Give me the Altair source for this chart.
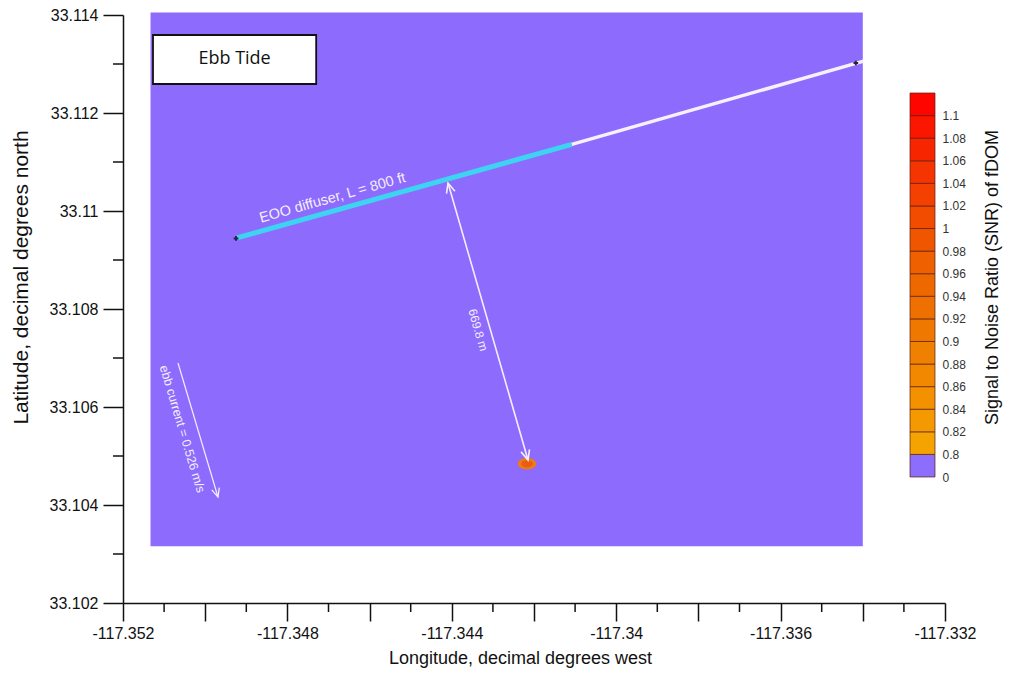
import altair as alt
import pandas as pd

# ---------------- data ----------------
x_major = [-117.352, -117.350, -117.348, -117.346, -117.344, -117.342,
           -117.340, -117.338, -117.336, -117.334, -117.332]
x_major_labels = ["-117.352", "", "-117.348", "", "-117.344", "",
                  "-117.34", "", "-117.336", "", "-117.332"]
x_minor = [-117.351, -117.349, -117.347, -117.345, -117.343,
           -117.341, -117.339, -117.337, -117.335, -117.333]
y_major = [33.102, 33.104, 33.106, 33.108, 33.110, 33.112, 33.114]
y_major_labels = ["33.102", "33.104", "33.106", "33.108", "33.11", "33.112", "33.114"]
y_minor = [33.103, 33.105, 33.107, 33.109, 33.111, 33.113]

# model grid extent (SNR = 0 everywhere except the plume)
grid_lon = [-117.35133, -117.33400]
grid_lat = [33.10316, 33.11405]

# diffuser (cyan = EOO diffuser section, white = outfall pipe)
diff_cyan_lon = [-117.34923, -117.34108]
diff_cyan_lat = [33.10945, 33.11136]
diff_white_lon = [-117.34108, -117.33398]
diff_white_lat = [33.11136, 33.11306]
diff_end_lon = [-117.34925, -117.33417]
diff_end_lat = [33.10944, 33.11302]

# plume spot
plume_lon = [-117.34217]
plume_lat = [33.10484]
plume_snr = [0.9]

# distance arrow
dist_lon = [-117.344092, -117.342146]
dist_lat = [33.110571, 33.104918]
dist_label = ["669.8 m"]
dist_label_lon = [-117.343363]
dist_label_lat = [33.107571]

# ebb current arrow
cur_lon = [-117.350662, -117.349689]
cur_lat = [33.106898, 33.104163]
cur_label = ["ebb current = 0.526 m/s"]
cur_label_lon = [-117.35056]
cur_label_lat = [33.10555]

# diffuser label
diff_label = ["EOO diffuser, L = 800 ft"]
diff_label_lon = [-117.346900]
diff_label_lat = [33.110260]

# title box
box_lon = [-117.35127, -117.34730]
box_lat = [33.112592, 33.113592]
box_text = ["Ebb Tide"]

# colour bar
cb_labels = ["0", "0.8", "0.82", "0.84", "0.86", "0.88", "0.9", "0.92", "0.94",
             "0.96", "0.98", "1", "1.02", "1.04", "1.06", "1.08", "1.1"]
cb_colors = ["#8d6efc", "#f5a300", "#f49a00", "#f39100", "#f28800", "#f08000",
             "#ef7800", "#ee7000", "#ee6800", "#ef6000", "#f05600", "#f24c00",
             "#f44000", "#f63400", "#f82600", "#fb1600", "#ff0500"]

PURPLE = "#8c6bfd"
FONT = "Liberation Sans, Arial, sans-serif"

# ---------------- frames ----------------
grid_df = pd.DataFrame({"lon0": [grid_lon[0]], "lon1": [grid_lon[1]],
                        "lat0": [grid_lat[0]], "lat1": [grid_lat[1]]})
cyan_df = pd.DataFrame({"lon": diff_cyan_lon, "lat": diff_cyan_lat})
white_df = pd.DataFrame({"lon": diff_white_lon, "lat": diff_white_lat})
end_df = pd.DataFrame({"lon": diff_end_lon, "lat": diff_end_lat})
plume_df = pd.DataFrame({"lon": plume_lon, "lat": plume_lat, "snr": plume_snr})
dist_df = pd.DataFrame({"lon": dist_lon, "lat": dist_lat})
cur_df = pd.DataFrame({"lon": cur_lon, "lat": cur_lat})
box_df = pd.DataFrame({"lon0": [box_lon[0]], "lon1": [box_lon[1]],
                       "lat0": [box_lat[0]], "lat1": [box_lat[1]],
                       "lonc": [(box_lon[0] + box_lon[1]) / 2],
                       "latc": [(box_lat[0] + box_lat[1]) / 2],
                       "t": box_text})
xminor_df = pd.DataFrame({"lon": x_minor})
yminor_df = pd.DataFrame({"lat": y_minor})
cb_df = pd.DataFrame({"lo": list(range(len(cb_colors))),
                      "hi": [i + 1 for i in range(len(cb_colors))],
                      "col": cb_colors})

xs = alt.Scale(domain=[x_major[0], x_major[-1]], nice=False, zero=False)
ys = alt.Scale(domain=[y_major[0], y_major[-1]], nice=False, zero=False)

x_label_expr = "[" + ",".join("'%s'" % s for s in x_major_labels) + "][round((datum.value - (%s)) * 500)]" % x_major[0]
y_label_expr = "[" + ",".join("'%s'" % s for s in y_major_labels) + "][round((datum.value - %s) * 500)]" % y_major[0]

x_axis = alt.Axis(values=x_major, labelExpr=x_label_expr, tickSize=18, tickWidth=1.5,
                  tickColor="#111", domainColor="#111", domainWidth=1.5, grid=False,
                  labelFont=FONT, labelFontSize=16, labelColor="#111", labelPadding=4,
                  labelFlush=False, labelOverlap=False,
                  title="Longitude, decimal degrees west", titleFont=FONT,
                  titleFontSize=18, titleFontWeight="normal", titleColor="#111",
                  titleX=397, titleY=55, titleBaseline="middle", titleAlign="center")
y_axis = alt.Axis(values=y_major, labelExpr=y_label_expr, tickSize=20, tickWidth=1.5,
                  tickColor="#111", domainColor="#111", domainWidth=1.5, grid=False,
                  labelFont=FONT, labelFontSize=16, labelColor="#111", labelPadding=5,
                  labelFlush=False, labelOverlap=False,
                  title="Latitude, decimal degrees north", titleFont=FONT,
                  titleFontSize=21, titleFontWeight="normal", titleColor="#111",
                  titleX=-102, titleY=262, titleAngle=270, titleBaseline="middle",
                  titleAlign="center")

grid_layer = alt.Chart(grid_df).mark_rect(color=PURPLE).encode(
    x=alt.X("lon0:Q", scale=xs, axis=x_axis), x2="lon1:Q",
    y=alt.Y("lat0:Q", scale=ys, axis=y_axis), y2="lat1:Q")

cyan_layer = alt.Chart(cyan_df).mark_line(color="#3fd3f2", strokeWidth=5).encode(
    x="lon:Q", y="lat:Q")
white_layer = alt.Chart(white_df).mark_line(color="#f6f0fa", strokeWidth=3.5).encode(
    x="lon:Q", y="lat:Q")
end_layer = alt.Chart(end_df).mark_point(shape="cross", filled=True, color="#2a2240",
                                         size=22, opacity=1).encode(x="lon:Q", y="lat:Q")

ellipse = "M-1,0A1,0.62,0,1,0,1,0A1,0.62,0,1,0,-1,0Z"
plume_layer = alt.Chart(plume_df).mark_point(shape=ellipse, filled=True, color="#f27a14",
                                             size=340, opacity=1).encode(x="lon:Q", y="lat:Q")
plume_core = alt.Chart(plume_df).mark_point(shape=ellipse, filled=True, color="#e85e10",
                                            size=130, opacity=1).encode(x="lon:Q", y="lat:Q")

chev = "M-0.45,1L0,0L0.45,1"
dist_line = alt.Chart(dist_df).mark_line(color="#f4eefa", strokeWidth=1.6).encode(
    x="lon:Q", y="lat:Q")
dist_head_top = alt.Chart(dist_df.iloc[[0]]).mark_point(
    shape=chev, filled=False, stroke="#f4eefa", strokeWidth=1.6, size=380, opacity=1,
    angle=343.9).encode(x="lon:Q", y="lat:Q")
dist_head_bot = alt.Chart(dist_df.iloc[[1]]).mark_point(
    shape=chev, filled=False, stroke="#f4eefa", strokeWidth=1.6, size=380, opacity=1,
    angle=163.9).encode(x="lon:Q", y="lat:Q")
dist_text = alt.Chart(pd.DataFrame({"lon": dist_label_lon, "lat": dist_label_lat,
                                    "t": dist_label})).mark_text(
    angle=73.9, font=FONT, fontSize=12, color="#f4eefa").encode(
    x="lon:Q", y="lat:Q", text="t:N")

cur_line = alt.Chart(cur_df).mark_line(color="#f4eefa", strokeWidth=1.2).encode(
    x="lon:Q", y="lat:Q")
cur_head = alt.Chart(cur_df.iloc[[1]]).mark_point(
    shape=chev, filled=False, stroke="#f4eefa", strokeWidth=1.3, size=300, opacity=1,
    angle=163.4).encode(x="lon:Q", y="lat:Q")
cur_text = alt.Chart(pd.DataFrame({"lon": cur_label_lon, "lat": cur_label_lat,
                                   "t": cur_label})).mark_text(
    angle=73.4, font=FONT, fontSize=12.5, color="#f4eefa").encode(
    x="lon:Q", y="lat:Q", text="t:N")

diff_text = alt.Chart(pd.DataFrame({"lon": diff_label_lon, "lat": diff_label_lat,
                                    "t": diff_label})).mark_text(
    angle=344.2, font=FONT, fontSize=14.5, color="#f4eefa").encode(
    x="lon:Q", y="lat:Q", text="t:N")

box_layer = alt.Chart(box_df).mark_rect(fill="white", stroke="#111", strokeWidth=1.8).encode(
    x="lon0:Q", x2="lon1:Q", y="lat0:Q", y2="lat1:Q")
box_text_layer = alt.Chart(box_df).mark_text(font="Open Sans, Noto Sans, sans-serif",
                                             fontSize=18, color="#111").encode(
    x="lonc:Q", y="latc:Q", text="t:N")

xminor_layer = alt.Chart(xminor_df).mark_rule(color="#111", strokeWidth=1.5).encode(
    x="lon:Q", y=alt.value(588), y2=alt.value(597))
yminor_layer = alt.Chart(yminor_df).mark_rule(color="#111", strokeWidth=1.5).encode(
    y="lat:Q", x=alt.value(0), x2=alt.value(-10))

main = alt.layer(grid_layer, cyan_layer, white_layer, end_layer, plume_layer, plume_core,
                 dist_line, dist_head_top, dist_head_bot, dist_text,
                 cur_line, cur_head, cur_text, diff_text,
                 box_layer, box_text_layer, xminor_layer, yminor_layer)

cb_label_expr = "[" + ",".join("'%s'" % s for s in cb_labels) + "][round(datum.value)]"
cb_axis = alt.Axis(orient="right", values=list(range(len(cb_labels))), labelExpr=cb_label_expr,
                   domain=False, ticks=False, tickSize=0, grid=False, labelPadding=-3,
                   labelFont=FONT, labelFontSize=12, labelColor="#333",
                   labelBaseline="middle", labelOverlap=False, labelFlush=False,
                   title="Signal to Noise Ratio (SNR) of fDOM", titleFont=FONT,
                   titleFontSize=18, titleFontWeight="normal", titleColor="#111",
                   titleX=47, titleY=262, titleAngle=270, titleBaseline="middle",
                   titleAlign="center")
cbar = alt.Chart(cb_df).mark_rect(stroke="#5a1c10", strokeWidth=0.7).encode(
    x=alt.value(787), x2=alt.value(812),
    y=alt.Y("lo:Q", scale=alt.Scale(domain=[0, len(cb_colors)], range=[462, 78],
                                    nice=False, zero=False), axis=cb_axis),
    y2="hi:Q",
    color=alt.Color("col:N", scale=None))

chart = alt.layer(main, cbar).resolve_scale(y="independent").properties(
    width=822, height=588,
    autosize=alt.AutoSizeParams(type="none"),
    padding={"left": 115, "top": 7, "right": 58, "bottom": 68},
    background="white",
).configure_view(strokeWidth=0)

chart.save("out.html", embed_options={"renderer": "svg", "actions": False})
